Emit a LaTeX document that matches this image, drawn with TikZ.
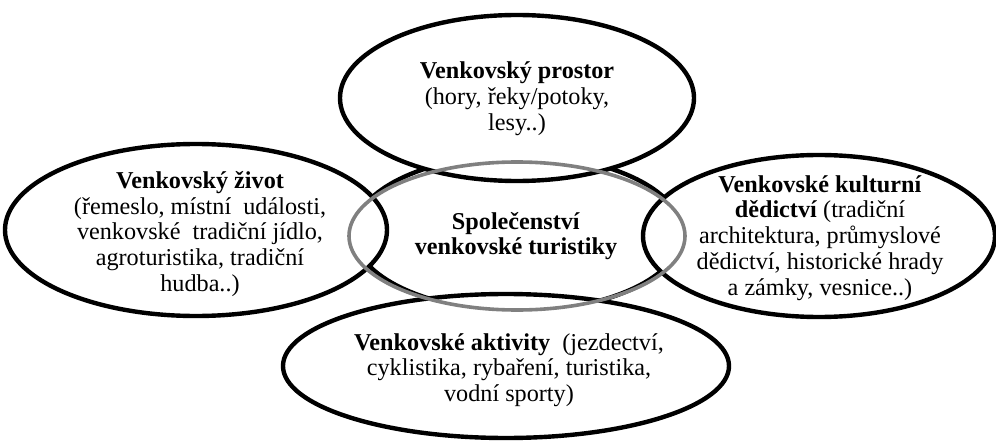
\documentclass[tikz,border=0pt]{standalone}
\usepackage{fontspec}
\setmainfont{Liberation Serif}
\usetikzlibrary{shapes.geometric}
\begin{document}
\begin{tikzpicture}[x=1pt,y=-1pt,
  blob/.style={ellipse, draw=black, line width=4.4pt, fill=white, inner sep=0pt},
  rim/.style={ellipse, draw=black!50, line width=3.6pt, inner sep=0pt},
  words/.style={align=center, inner sep=0pt, font=\fontsize{24.2}{25.8}\selectfont}]
\useasboundingbox (0,0) rectangle (996,441);

% central ellipse, lying under the four surrounding ones
\node[blob, minimum width=328, minimum height=156] (core) at (518,233) {};

% surrounding ellipses
\node[blob, minimum width=354, minimum height=166] (space)   at (517,98)  {};
\node[blob, minimum width=382, minimum height=172] (life)    at (196,230) {};
\node[blob, minimum width=352, minimum height=162] (heritage) at (819,236) {};
\node[blob, minimum width=446, minimum height=144] (actions) at (506,366) {};

% grey outline of the central ellipse, drawn over everything
\node[rim, minimum width=336, minimum height=148] (ring) at (517,236) {};

% texts
\node[words] (coreText) at (516,236)
  {\textbf{Společenství}\\\textbf{venkovské turistiky}};
\node[words] (spaceText) at (517,99)
  {\textbf{Venkovský prostor}\\(hory, řeky/potoky,\\lesy..)};
\node[words] (lifeText) at (200,234)
  {\textbf{Venkovský život}\\(řemeslo, místní~ události,\\venkovské~ tradiční jídlo,\\agroturistika, tradiční\\hudba..)};
\node[words] (heritageText) at (820,238)
  {\textbf{Venkovské kulturní}\\\textbf{dědictví} (tradiční\\architektura, průmyslové\\dědictví, historické hrady\\a zámky, vesnice..)};
\node[words] (actionsText) at (509,370)
  {\textbf{Venkovské aktivity}~ (jezdectví,\\cyklistika, rybaření, turistika,\\vodní sporty)};
\end{tikzpicture}
\end{document}
